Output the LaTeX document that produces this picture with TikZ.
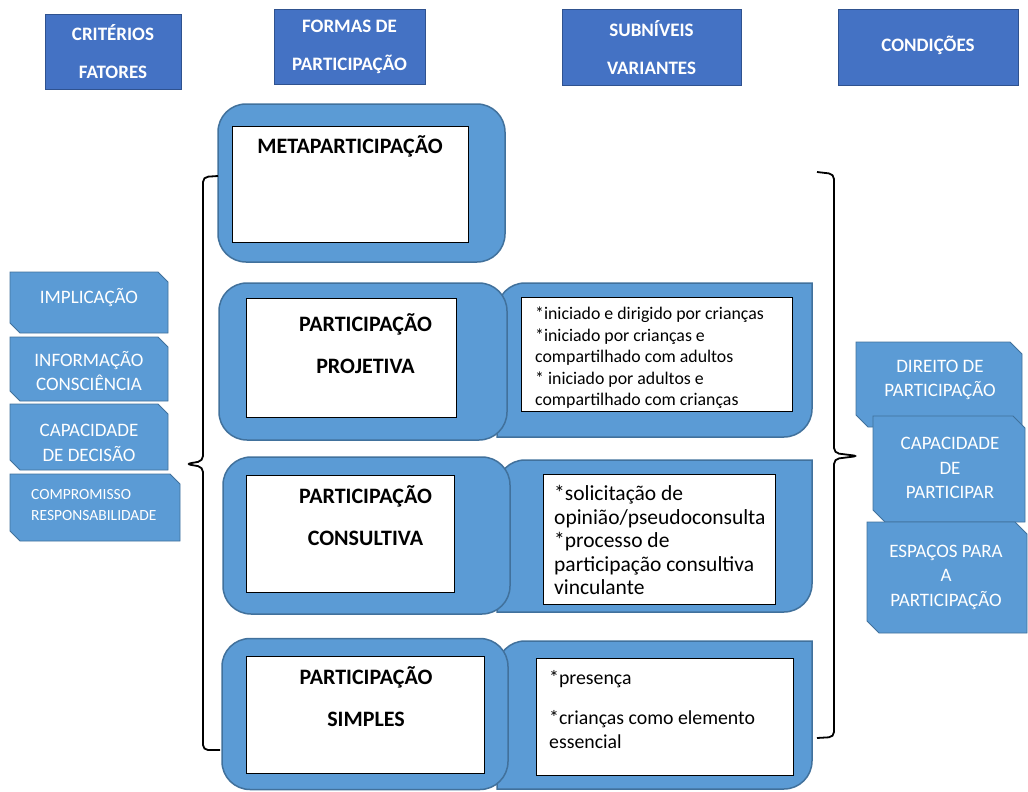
\documentclass[tikz,border=0pt]{standalone}
\usepackage{fontspec}
\setmainfont{Carlito}
\definecolor{hdr}{HTML}{4472C4}
\definecolor{hdrb}{HTML}{2F528F}
\definecolor{bodyb}{HTML}{5B9BD5}
\definecolor{bodyd}{HTML}{41719C}
\newcommand\snipshape[5]{\filldraw[sidebox] (#1,#2) -- ({#3-#5},#2) -- (#3,{#2+#5}) -- (#3,#4) -- ({#1+#5},#4) -- (#1,{#4-#5}) -- cycle;}
\newcommand\mysubbox[4]{\filldraw[subbox] (#1,#4) -- (#1,{#2+28}) arc[start angle=180,end angle=270,radius=28] -- (#3,#2) -- (#3,{#4-28}) arc[start angle=0,end angle=90,radius=28] -- cycle;}
\begin{document}
\begin{tikzpicture}[x=1pt,y=-1pt,
 hdrbox/.style={draw=hdrb, fill=hdr, line width=1pt, inner sep=0pt, text=white, font=\fontsize{19}{38}\selectfont\bfseries, align=center},
 outerbox/.style={draw=bodyd, fill=bodyb, line width=1.5pt, rounded corners=28pt, inner sep=0pt},
 subbox/.style={draw=bodyd, fill=bodyb, line width=1.5pt},
 innerbox/.style={draw=black, fill=white, line width=0.8pt, inner sep=0pt},
 formtxt/.style={font=\fontsize{22}{42}\selectfont\bfseries, align=center, inner sep=0pt},
 subtxt/.style={font=\fontsize{17.8}{21.5}\selectfont, align=left, inner sep=0pt, anchor=west},
 sidebox/.style={draw=bodyd, fill=bodyb, line width=0.8pt},
 sidetxt/.style={font=\fontsize{19}{24.5}\selectfont, text=white, align=center, inner sep=0pt},
 brace/.style={draw=black, line width=1.8pt, rounded corners=5pt}
]
\useasboundingbox (0,0) rectangle (1028,792);
% headers
\node[hdrbox, minimum width=136pt, minimum height=74pt] (h1) at (113,52) {CRITÉRIOS\\FATORES};
\node[hdrbox, minimum width=151pt, minimum height=74pt] (h2) at (349.5,47) {FORMAS DE\\PARTICIPAÇÃO};
\node[hdrbox, minimum width=179pt, minimum height=75pt] (h3) at (651.5,47.5) {SUBNÍVEIS\\VARIANTES};
\node[hdrbox, minimum width=180pt, minimum height=75pt] (h4) at (928,47.5) {\raisebox{8pt}{CONDIÇÕES}};
% sub-level boxes
\mysubbox{497}{283}{812}{437}
\mysubbox{497}{460}{812}{612}
\mysubbox{497}{641}{812}{789}
\node[innerbox, minimum width=271pt, minimum height=114pt] (projin2) at (656.5,354) {};
\node[innerbox, minimum width=232pt, minimum height=130pt] (consin2) at (659,539) {};
\node[innerbox, minimum width=257pt, minimum height=117pt] (simpin2) at (664.5,716.5) {};
% forms
\node[outerbox, minimum width=287pt, minimum height=158pt] (meta) at (361.5,183) {};
\node[outerbox, minimum width=288pt, minimum height=157pt] (proj) at (363,361.5) {};
\node[outerbox, minimum width=287pt, minimum height=157pt] (cons) at (366.5,535.5) {};
\node[outerbox, minimum width=286pt, minimum height=151pt] (simp) at (365,714) {};
\node[innerbox, minimum width=236pt, minimum height=116pt] (metain) at (350,184) {};
\node[innerbox, minimum width=210pt, minimum height=119pt] (projin) at (351,357.5) {};
\node[innerbox, minimum width=208pt, minimum height=117pt] (consin) at (350,533.5) {};
\node[innerbox, minimum width=238pt, minimum height=117pt] (simpin) at (365,714.5) {};
\node[formtxt] (metat) at (350,146) {METAPARTICIPAÇÃO};
\node[formtxt] (projt) at (365.5,344) {PARTICIPAÇÃO\\PROJETIVA};
\node[formtxt] (const) at (365.5,516) {PARTICIPAÇÃO\\CONSULTIVA};
\node[formtxt] (simpt) at (366,697) {PARTICIPAÇÃO\\SIMPLES};
\node[subtxt] (projs) at (535,358) {*iniciado e dirigido por crianças\\*iniciado por crianças e\\compartilhado com adultos\\* iniciado por adultos e\\compartilhado com crianças};
\node[subtxt, font=\fontsize{21.5}{23.5}\selectfont] (conss) at (554,540) {*solicitação de\\opinião/pseudoconsulta\\*processo de\\participação consultiva\\vinculante};
\node[subtxt, font=\fontsize{19.8}{24}\selectfont] (simps) at (549,710) {*presença\\[16pt]*crianças como elemento\\essencial};
% left side boxes
\snipshape{10}{272}{168}{333}{10}
\snipshape{10}{337}{168}{401}{10}
\snipshape{10}{404}{168}{470}{10}
\snipshape{10}{474}{180}{541}{10}
\node[sidetxt] (imp) at (89,298) {IMPLICAÇÃO};
\node[sidetxt] (inf) at (89,371) {INFORMAÇÃO\\CONSCIÊNCIA};
\node[sidetxt] (cap) at (89,443) {CAPACIDADE\\DE DECISÃO};
\node[sidetxt, font=\fontsize{15.5}{21}\selectfont, align=left, anchor=west] (comp) at (31,505) {COMPROMISSO\\RESPONSABILIDADE};
% right side boxes
\snipshape{856}{342}{1022}{427}{12}
\snipshape{873}{416}{1025}{522}{12}
\snipshape{867}{522}{1027}{633}{12}
\node[sidetxt] (dir) at (940,380) {DIREITO DE\\PARTICIPAÇÃO};
\node[sidetxt] (capp) at (950,468) {CAPACIDADE\\DE\\PARTICIPAR};
\node[sidetxt] (esp) at (946,577) {ESPAÇOS PARA\\A\\PARTICIPAÇÃO};
% braces
\coordinate (lbt) at (218,176);
\coordinate (lbb) at (220,750);
\coordinate (rbt) at (817,172);
\coordinate (rbb) at (817,738);
\draw[brace] (lbt) -- (203,177) -- (203,461) -- (186,464) -- (203,467) -- (203,750) -- (lbb);
\draw[brace] (rbt) -- (834,174) -- (834,453) -- (858,456) -- (834,459) -- (834,737) -- (rbb);
\end{tikzpicture}
\end{document}
